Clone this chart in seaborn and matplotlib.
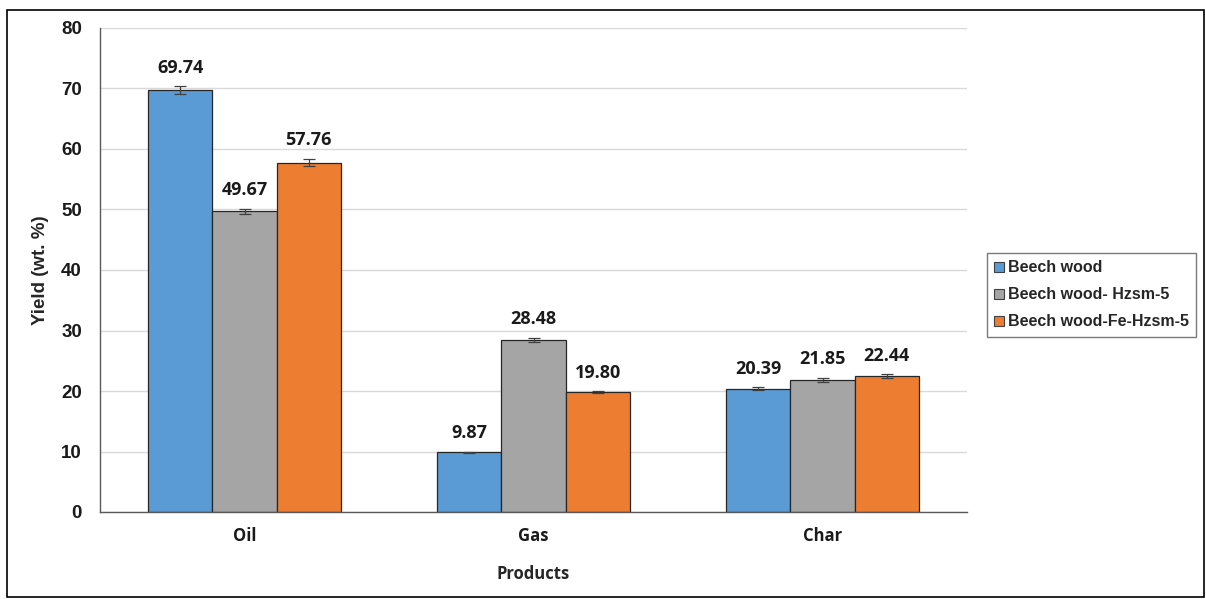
import matplotlib
matplotlib.use("Agg")
import matplotlib.pyplot as plt
import seaborn as sns
import pandas as pd
from matplotlib.patches import Rectangle

categories = ["Oil", "Gas", "Char"]
series = ["Beech wood", "Beech wood- Hzsm-5", "Beech wood-Fe-Hzsm-5"]
beech = [69.74, 9.87, 20.39]
beech_hzsm = [49.67, 28.48, 21.85]
beech_fe = [57.76, 19.80, 22.44]
err_beech = [0.6, 0.1, 0.2]
err_hzsm = [0.45, 0.3, 0.3]
err_fe = [0.6, 0.15, 0.3]
colors = ["#5B9BD5", "#A5A5A5", "#ED7D31"]

rows = []
for s, vals, errs in zip(series, [beech, beech_hzsm, beech_fe], [err_beech, err_hzsm, err_fe]):
    for c, v, e in zip(categories, vals, errs):
        rows.append({"Products": c, "Series": s, "Yield": v, "Err": e})
df = pd.DataFrame(rows)

sns.set_theme(style="white")
plt.rcParams['font.family'] = ['Liberation Sans', 'DejaVu Sans']

fig = plt.figure(figsize=(12.06, 5.99), dpi=100)
ax = fig.add_axes([100/1206, 1-512/599, 867/1206, (512-28)/599])

sns.barplot(data=df, x="Products", y="Yield", hue="Series", order=categories,
            hue_order=series, palette=colors, width=0.667, errorbar=None,
            edgecolor="#262626", linewidth=0.9, saturation=1, ax=ax, legend=True)

for cont, s in zip(ax.containers, series):
    sub = df[df.Series == s].set_index("Products").loc[categories]
    xs = [p.get_x() + p.get_width()/2 for p in cont.patches]
    ax.errorbar(xs, sub["Yield"].values, yerr=sub["Err"].values, fmt="none",
                ecolor="#404040", elinewidth=0.9, capsize=4, capthick=0.9, zorder=5)
    for x, v, e in zip(xs, sub["Yield"].values, sub["Err"].values):
        ax.text(x, v + e + 1.6, f"{v:.2f}", ha="center", va="bottom",
                fontsize=13, fontweight="bold", family=["Open Sans", "DejaVu Sans"], color="#1a1a1a")

ax.set_ylim(0, 80)
ax.set_xlim(-0.5, 2.5)
ax.set_yticks(range(0, 81, 10))
ax.yaxis.grid(True, color="#d9d9d9", linewidth=1)
ax.set_axisbelow(True)
for sp in ["top", "right"]:
    ax.spines[sp].set_visible(False)
ax.spines["left"].set_color("#595959")
ax.spines["bottom"].set_color("#595959")
ax.spines["left"].set_linewidth(1)
ax.spines["bottom"].set_linewidth(1)
ax.tick_params(axis="y", length=0, pad=13, labelsize=13.5, labelcolor="#1a1a1a")
ax.tick_params(axis="x", length=0, pad=11, labelsize=12, labelcolor="#1a1a1a")
for t in ax.get_yticklabels():
    t.set_fontweight("bold")
for t in ax.get_xticklabels():
    t.set_fontweight("bold")
    t.set_family(["Open Sans", "DejaVu Sans"])
ax.set_ylabel("Yield (wt. %)", fontsize=13.5, fontweight="bold", labelpad=9, color="#262626")
ax.set_xlabel("Products", fontsize=12, fontweight="bold", labelpad=14,
              family=["Open Sans", "DejaVu Sans"], color="#262626")

leg = ax.legend(loc="upper left", bbox_to_anchor=(984/1206, 1-250/599),
                bbox_transform=fig.transFigure, frameon=True, fancybox=False,
                edgecolor="#595959", handlelength=0.6, handleheight=0.6,
                handletextpad=0.25, borderpad=0.45, labelspacing=0.75,
                borderaxespad=0.2,
                prop={"family": ["Liberation Sans", "DejaVu Sans"], "weight": "bold", "size": 11.5})
leg.get_frame().set_linewidth(1)
for h in leg.legend_handles:
    h.set_edgecolor("#404040")
    h.set_linewidth(0.8)

fig.patches.append(Rectangle((7/1206, 1-597/599), 1197/1206, (597-10)/599,
                             transform=fig.transFigure, fill=False,
                             edgecolor="black", linewidth=1.2))

fig.savefig("out.png", dpi=100)
